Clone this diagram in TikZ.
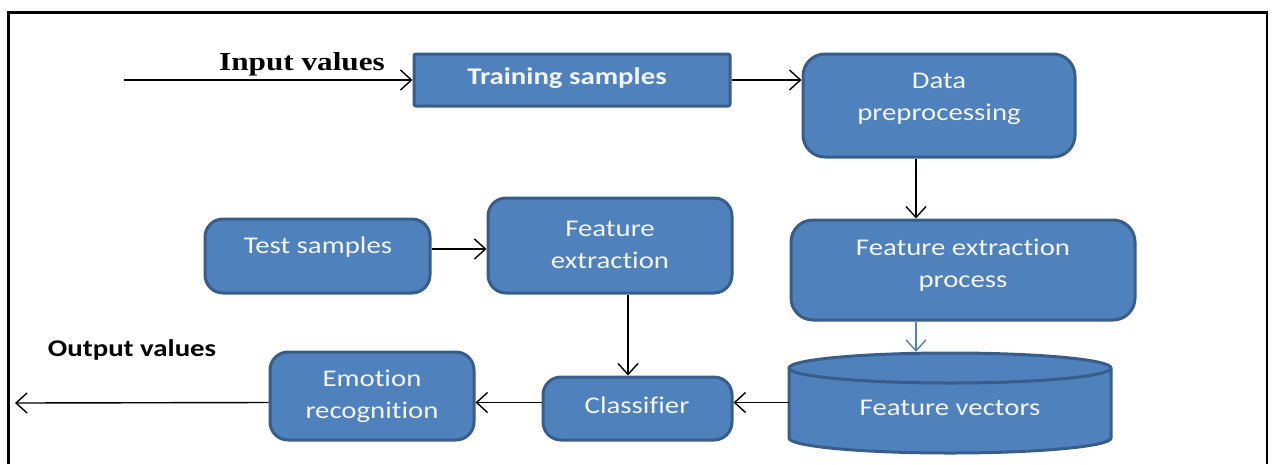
\documentclass[tikz,border=0pt]{standalone}
\usepackage{fontspec}
\setmainfont{Carlito}[FakeStretch=1.2, Ligatures=NoCommon]
\newfontfamily\tnr{Liberation Serif}[FakeStretch=1.2]
\usetikzlibrary{arrows.meta,calc}
\definecolor{boxfill}{RGB}{79,129,189}
\definecolor{boxline}{RGB}{56,93,138}
\definecolor{txt}{RGB}{242,244,248}
\tikzset{
  x=1pt, y=-1pt,
  box/.style={draw=boxline, fill=boxfill, line width=3pt, rounded corners=18pt, inner sep=0pt},
  lbl/.style={text=txt, font=\fontsize{24}{32}\selectfont, align=center, inner sep=0pt},
  arr/.style={line width=1.4pt, -{Straight Barb[length=11pt,width=20pt,line width=1.4pt]}},
  barr/.style={arr, draw=boxfill},
}
\begin{document}
\begin{tikzpicture}
\useasboundingbox (0,0) rectangle (1273,464);
% frame
\draw[line width=3.5pt] (8.5,464) -- (8.5,12.5);
\draw[line width=3pt] (7,12.5) -- (1268,12.5);
\draw[line width=2pt] (1267,11) -- (1267,464);

% boxes
\node[box, rounded corners=2pt, minimum width=316pt, minimum height=52pt] (train) at (572,80) {};
\node[box, rounded corners=22pt, minimum width=272pt, minimum height=103pt] (data) at (939,105.5) {};
\node[box, rounded corners=22pt, minimum width=344pt, minimum height=100pt] (fep) at (963,270) {};
\node[box, minimum width=225pt, minimum height=74pt] (test) at (317.5,256) {};
\node[box, minimum width=244pt, minimum height=95pt] (fe) at (610,245.5) {};
\node[box, minimum width=189pt, minimum height=63pt] (cls) at (637.5,408.5) {};
\node[box, minimum width=204pt, minimum height=88pt] (emo) at (372,396) {};
% cylinder
\node[minimum width=322pt, minimum height=101pt, inner sep=0pt] (fv) at (950,402.5) {};
\filldraw[draw=boxline, fill=boxfill, line width=3pt]
  (789,368) -- (789,438) arc[start angle=180, end angle=360, x radius=161pt, y radius=15pt]
  -- (1111,368) arc[start angle=0, end angle=180, x radius=161pt, y radius=15pt] -- cycle;
\draw[draw=boxline, line width=3pt] (789,368) arc[start angle=180, end angle=360, x radius=161pt, y radius=15pt];

% texts
\node[lbl, font=\fontsize{24}{32}\selectfont\bfseries] (ttrain) at (567,78) {Training samples};
\node[lbl] (tdata) at (939,99) {Data\\preprocessing};
\node[lbl] (tfep) at (963,265) {Feature extraction\\process};
\node[lbl] (tfv) at (950,408) {Feature vectors};
\node[lbl] (ttest) at (318,247) {Test samples};
\node[lbl] (tfe) at (610,244.5) {Feature\\extraction};
\node[lbl] (tcls) at (637,405) {Classifier};
\node[lbl] (temo) at (372,396.5) {Emotion\\recognition};
\node[font=\tnr\fontsize{26}{30}\selectfont\bfseries, inner sep=0pt] (tin) at (302,64) {Input values};
\node[font=\fontsize{24}{30}\selectfont\bfseries, inner sep=0pt] (tout) at (132,350) {Output values};

% connectors
\coordinate (in) at (124,80);
\coordinate (out) at (15,403);
\draw[arr] (in) -- (train.west);
\draw[arr] (train.east) -- (train.east -| data.west);
\draw[arr] ([xshift=-23pt]data.south) -- ([xshift=-23pt]data.south |- fep.north);
\draw[barr] ([xshift=-47pt]fep.south) -- ([xshift=-47pt]fep.south |- fv.north);
\draw[arr] ([yshift=7pt]test.east) -- ([yshift=7pt]test.east -| fe.west);
\draw[arr] ([xshift=18pt]fe.south) -- ([xshift=18pt]fe.south |- cls.north);
\draw[arr] (fv.west) -- (fv.west -| cls.east);
\draw[arr] (cls.west |- fv.west) -- (emo.east |- fv.west);
\draw[arr] (emo.west |- fv.west) -- (out);
\end{tikzpicture}
\end{document}
